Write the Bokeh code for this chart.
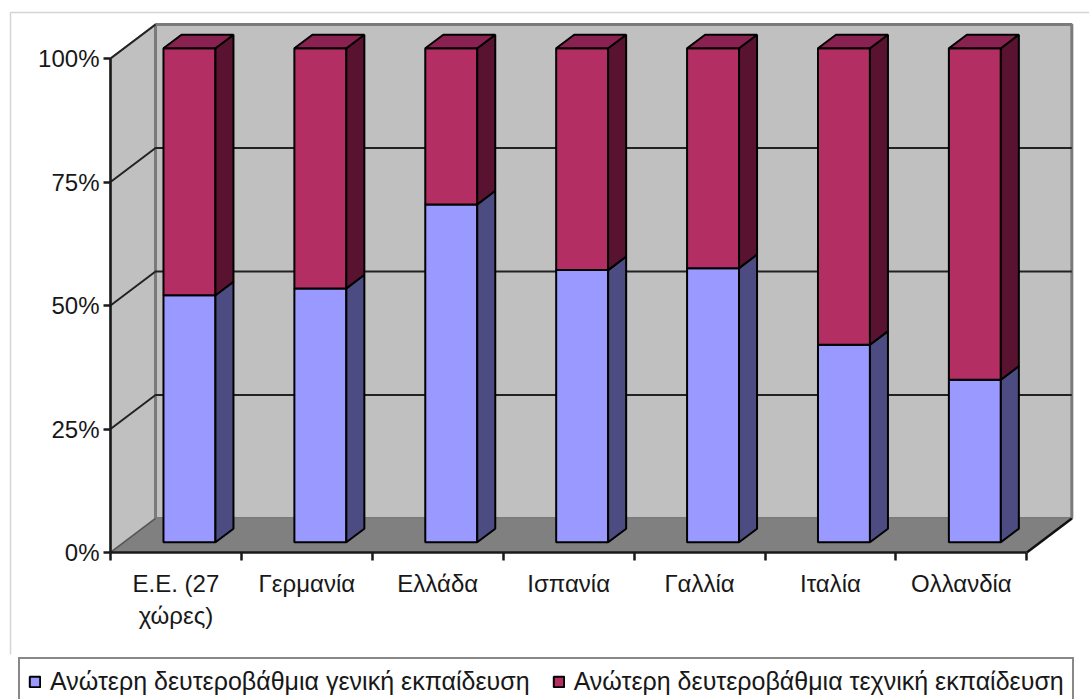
from bokeh.plotting import figure
from bokeh.models import FixedTicker, Range1d, Legend, LegendItem
from bokeh.embed import file_html
from bokeh.resources import INLINE

# ---------------- data ----------------
categories = ["Ε.Ε. (27\nχώρες)", "Γερμανία", "Ελλάδα", "Ισπανία", "Γαλλία", "Ιταλία", "Ολλανδία"]
general = [50.0, 51.4, 68.4, 55.1, 55.5, 40.0, 32.9]
technical = [50.0, 48.6, 31.6, 44.9, 44.5, 60.0, 67.1]
series_names = ["Ανώτερη δευτεροβάθμια γενική εκπαίδευση",
                "Ανώτερη δευτεροβάθμια τεχνική εκπαίδευση"]
y_ticks = [0, 25, 50, 75, 100]
y_tick_labels = ["0%", "25%", "50%", "75%", "100%"]

# ---------------- layout / styling ----------------
W_PAGE, H_PAGE = 1089, 699
X0_PX, Y0_PX = 110, 552       # pixel position of the front axes origin
PX_X, PX_Y = 130.9, 4.94      # pixels per category / per percent
N = len(categories)
DX = 0.344      # depth offset along x (category units)
DY = 6.88       # depth offset along y (percent units)
F1, F2 = 0.30, 0.70   # bar front / back depth fraction
W = 0.397       # bar width
FONT = "Liberation Sans"
FS = "24px"
TXT = "#181818"
BLUE, BLUE_SIDE = "#9999FF", "#4C4C82"
RED, RED_SIDE, RED_TOP = "#B22E63", "#5A1231", "#8A2251"
WALL, FLOOR = "#C0C0C0", "#808080"

def px_to_x(px):
    return (px - X0_PX) / PX_X

def px_to_y(py):
    return (Y0_PX - py) / PX_Y

p = figure(width=W_PAGE, height=H_PAGE, output_backend="svg", toolbar_location=None,
           x_range=Range1d(px_to_x(0), px_to_x(W_PAGE)),
           y_range=Range1d(px_to_y(H_PAGE), px_to_y(0)),
           min_border=0, min_border_left=0, min_border_right=0,
           min_border_top=0, min_border_bottom=0,
           background_fill_color="white", border_fill_color="white")
p.outline_line_color = None
p.grid.visible = False
p.title.visible = False

# outer chart-area border (light gray, left and top)
bx, by, bb = px_to_x(10), px_to_y(12), px_to_y(654)
p.line([bx, bx, px_to_x(W_PAGE + 5)], [bb, by, by], line_color="#d4d4d4", line_width=1.5)

# walls and floor
p.patch([0, DX, DX, 0], [0, DY, 100 + DY, 100], fill_color=WALL, line_color="#7a7a7a", line_width=2)
p.quad(left=[DX], right=[N + DX], bottom=[DY], top=[100 + DY],
       fill_color=WALL, line_color="#7a7a7a", line_width=3)
p.patch([0, N, N + DX, DX], [0, 0, DY, DY], fill_color=FLOOR, line_color=None)
p.line([N, N + DX], [0, DY], line_color="#111111", line_width=2.5)

# gridlines on side and back walls
grid_vals = [v for v in y_ticks if v > 0]
p.multi_line([[0, DX, N + DX] for v in grid_vals[:-1]] + [[0, DX]],
             [[v, v + DY, v + DY] for v in grid_vals[:-1]] + [[100, 100 + DY]],
             line_color="#222222", line_width=2)
p.line([0, DX], [0, DY], line_color="#555555", line_width=1.5)

# bars
cx = [i + 0.5 + F1 * DX for i in range(N)]
x0 = [c - W / 2 for c in cx]
x1 = [c + W / 2 for c in cx]
sdx = (F2 - F1) * DX
sdy = (F2 - F1) * DY
base = F1 * DY
g_bot = [base for _ in general]
g_top = [base + g for g in general]
t_bot = g_top
t_top = [a + t for a, t in zip(g_top, technical)]

def side(xr, b, t):
    return ([[x, x + sdx, x + sdx, x] for x in xr],
            [[bb_, bb_ + sdy, tt + sdy, tt] for bb_, tt in zip(b, t)])

r_blue = p.quad(left=x0, right=x1, bottom=g_bot, top=g_top,
                fill_color=BLUE, line_color="black", line_width=2)
xs, ys = side(x1, g_bot, g_top)
p.patches(xs, ys, fill_color=BLUE_SIDE, line_color="black", line_width=2)

r_red = p.quad(left=x0, right=x1, bottom=t_bot, top=t_top,
               fill_color=RED, line_color="black", line_width=2)
xs, ys = side(x1, t_bot, t_top)
p.patches(xs, ys, fill_color=RED_SIDE, line_color="black", line_width=2)
p.patches([[a, b, b + sdx, a + sdx] for a, b in zip(x0, x1)],
          [[t, t, t + sdy, t + sdy] for t in t_top],
          fill_color=RED_TOP, line_color="black", line_width=2)

# axes (fixed at the chart's front origin)
yax = p.yaxis[0]
yax.fixed_location = 0
yax.ticker = FixedTicker(ticks=y_ticks)
yax.major_label_overrides = {v: s for v, s in zip(y_ticks, y_tick_labels)}
yax.bounds = (0, 100)
yax.axis_line_width = 2.5
yax.axis_line_color = "#1a1a1a"
yax.major_tick_out = 7
yax.major_tick_in = 0
yax.major_tick_line_width = 2.5
yax.major_tick_line_color = "#1a1a1a"
yax.minor_tick_line_color = None
yax.major_label_standoff = 4
yax.major_label_text_font = FONT
yax.major_label_text_font_size = FS
yax.major_label_text_color = TXT

centers = [i + 0.5 for i in range(N)]
xax = p.xaxis[0]
xax.fixed_location = 0
xax.ticker = FixedTicker(ticks=centers, minor_ticks=list(range(N + 1)))
xax.major_label_overrides = {c: s for c, s in zip(centers, categories)}
xax.bounds = (0, N)
xax.axis_line_width = 2.5
xax.axis_line_color = "#1a1a1a"
xax.major_tick_out = 0
xax.major_tick_in = 0
xax.minor_tick_out = 8
xax.minor_tick_in = 0
xax.minor_tick_line_width = 2.5
xax.minor_tick_line_color = "#1a1a1a"
xax.major_label_standoff = 9
xax.major_label_text_font = FONT
xax.major_label_text_font_size = FS
xax.major_label_text_color = TXT

# legend at the bottom of the canvas
legend = Legend(items=[LegendItem(label=series_names[0], renderers=[r_blue]),
                       LegendItem(label=series_names[1], renderers=[r_red])],
                location=(18, -7), orientation="horizontal",
                padding=8, spacing=22, margin=0,
                glyph_width=13, glyph_height=13, label_standoff=9,
                label_text_font=FONT, label_text_font_size="25px", label_text_color=TXT,
                border_line_color="#111111", border_line_width=2,
                background_fill_color="white", background_fill_alpha=1.0)
p.add_layout(legend, "center")

open("out.html", "w").write(file_html(p, INLINE))
